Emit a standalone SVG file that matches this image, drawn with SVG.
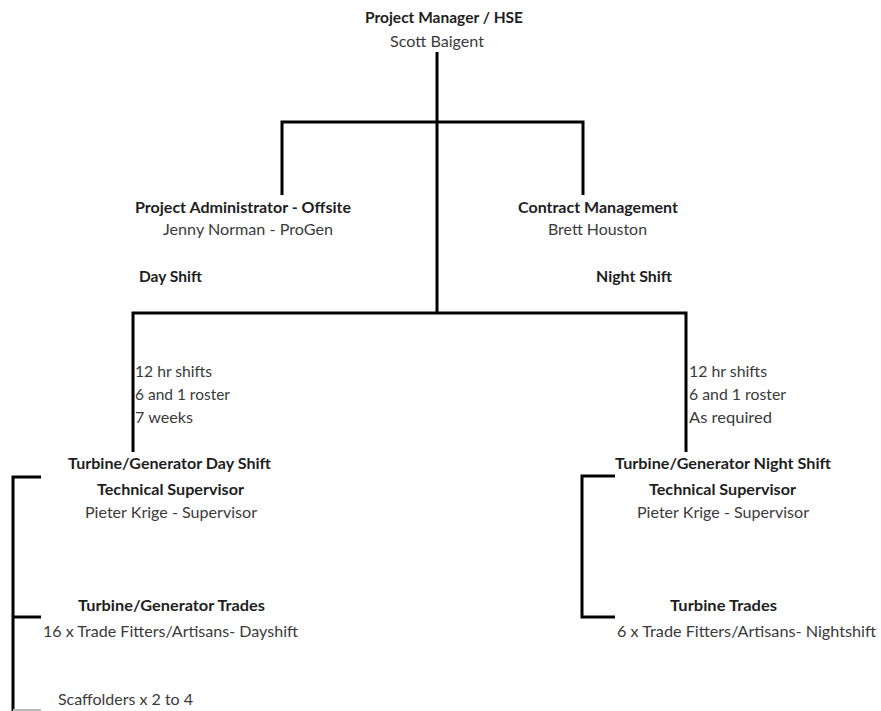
<svg xmlns="http://www.w3.org/2000/svg" width="881" height="711" viewBox="0 0 881 711">
<style>
text{font-family:Lato,"Open Sans","Liberation Sans",sans-serif;font-size:15px}
.b{font-weight:bold;fill:#1e1e1e}
.r{fill:#3a3a3a}
.ln{stroke:#000;stroke-width:3;fill:none}
</style>
<rect width="881" height="711" fill="#fff"/>
<g id="connectors">
<path class="ln" d="M437,52 V313"/>
<path class="ln" d="M282,195 V122 H583 V195"/>
<path class="ln" d="M133,452 V313 H686 V452"/>
<path class="ln" d="M41,477 H13 V711"/>
<path class="ln" d="M13,617 H41"/>
<path d="M13,710 H41" stroke="#bbb" stroke-width="2"/>
<path class="ln" d="M615,476 H582 V617 H615"/>
</g>
<g id="project-manager">
<text class="b" x="365" y="23" textLength="158" lengthAdjust="spacingAndGlyphs">Project Manager / HSE</text>
<text class="r" x="390" y="47" textLength="94" lengthAdjust="spacingAndGlyphs">Scott Baigent</text>
</g>
<g id="project-administrator">
<text class="b" x="135" y="213" textLength="216" lengthAdjust="spacingAndGlyphs">Project Administrator - Offsite</text>
<text class="r" x="163" y="235" textLength="170" lengthAdjust="spacingAndGlyphs">Jenny Norman - ProGen</text>
</g>
<g id="contract-management">
<text class="b" x="518" y="213" textLength="160" lengthAdjust="spacingAndGlyphs">Contract Management</text>
<text class="r" x="548" y="235" textLength="99" lengthAdjust="spacingAndGlyphs">Brett Houston</text>
</g>
<g id="day-shift">
<text class="b" x="139" y="282" textLength="63" lengthAdjust="spacingAndGlyphs">Day Shift</text>
</g>
<g id="night-shift">
<text class="b" x="596" y="282" textLength="76" lengthAdjust="spacingAndGlyphs">Night Shift</text>
</g>
<g id="day-roster">
<text class="r" x="135" y="377" textLength="77" lengthAdjust="spacingAndGlyphs">12 hr shifts</text>
<text class="r" x="135" y="400" textLength="95" lengthAdjust="spacingAndGlyphs">6 and 1 roster</text>
<text class="r" x="135" y="423" textLength="58" lengthAdjust="spacingAndGlyphs">7 weeks</text>
</g>
<g id="night-roster">
<text class="r" x="689" y="377" textLength="78" lengthAdjust="spacingAndGlyphs">12 hr shifts</text>
<text class="r" x="689" y="400" textLength="97" lengthAdjust="spacingAndGlyphs">6 and 1 roster</text>
<text class="r" x="689" y="423" textLength="83" lengthAdjust="spacingAndGlyphs">As required</text>
</g>
<g id="day-supervisor">
<text class="b" x="68" y="469" textLength="203" lengthAdjust="spacingAndGlyphs">Turbine/Generator Day Shift</text>
<text class="b" x="97" y="495" textLength="147" lengthAdjust="spacingAndGlyphs">Technical Supervisor</text>
<text class="r" x="85" y="518" textLength="172" lengthAdjust="spacingAndGlyphs">Pieter Krige - Supervisor</text>
</g>
<g id="night-supervisor">
<text class="b" x="615" y="469" textLength="216" lengthAdjust="spacingAndGlyphs">Turbine/Generator Night Shift</text>
<text class="b" x="649" y="495" textLength="147" lengthAdjust="spacingAndGlyphs">Technical Supervisor</text>
<text class="r" x="637" y="518" textLength="172" lengthAdjust="spacingAndGlyphs">Pieter Krige - Supervisor</text>
</g>
<g id="day-trades">
<text class="b" x="78" y="611" textLength="187" lengthAdjust="spacingAndGlyphs">Turbine/Generator Trades</text>
<text class="r" x="43" y="637" textLength="255" lengthAdjust="spacingAndGlyphs">16 x Trade Fitters/Artisans- Dayshift</text>
</g>
<g id="night-trades">
<text class="b" x="670" y="611" textLength="107" lengthAdjust="spacingAndGlyphs">Turbine Trades</text>
<text class="r" x="617" y="637" textLength="259" lengthAdjust="spacingAndGlyphs">6 x Trade Fitters/Artisans- Nightshift</text>
</g>
<g id="scaffolders">
<text class="r" x="58" y="705" textLength="135" lengthAdjust="spacingAndGlyphs">Scaffolders x 2 to 4</text>
</g>
</svg>
